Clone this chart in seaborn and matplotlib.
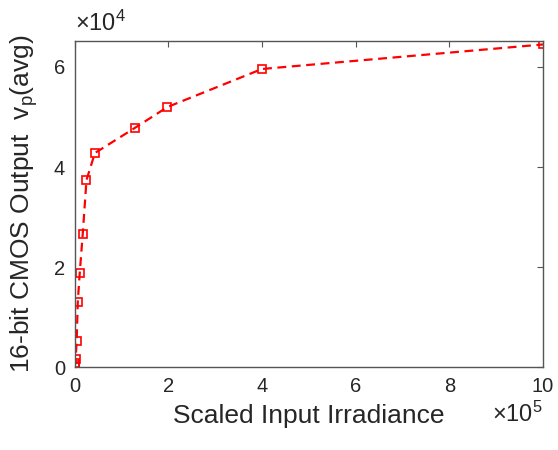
import matplotlib
matplotlib.use("Agg")
import matplotlib.pyplot as plt
import seaborn as sns
from matplotlib.ticker import FuncFormatter, MultipleLocator

irradiance = [0, 500, 1000, 2000, 4000, 6400, 10600, 17000, 25000,
              43000, 128000, 198000, 400000, 1000000]
cmos_output = [50, 400, 900, 1700, 5200, 13000, 18800, 26600, 37400,
               42800, 47800, 52000, 59600, 64500]

sns.set_style("white")
plt.rcParams['font.family'] = ['Liberation Sans', 'DejaVu Sans']
plt.rcParams['mathtext.fontset'] = 'custom'
plt.rcParams['mathtext.rm'] = 'Liberation Sans'
plt.rcParams['mathtext.it'] = 'Liberation Sans'

axis_gray = '#262626'
fig = plt.figure(figsize=(5.58, 4.5), dpi=100)
ax = fig.add_axes([0.134, 0.184, 0.839, 0.725])

sns.lineplot(x=irradiance, y=cmos_output, ax=ax, sort=False,
             color='red', linestyle=(0, (4, 2.5)), linewidth=1.6,
             marker='s', markersize=5.5, markerfacecolor='none',
             markeredgecolor='red', markeredgewidth=1.2)

ax.set_xlim(0, 1e6)
ax.set_ylim(0, 65200)
ax.xaxis.set_major_locator(MultipleLocator(2e5))
ax.yaxis.set_major_locator(MultipleLocator(2e4))
ax.xaxis.set_major_formatter(FuncFormatter(lambda v, p: f"{v/1e5:g}"))
ax.yaxis.set_major_formatter(FuncFormatter(lambda v, p: f"{v/1e4:g}"))

for s in ax.spines.values():
    s.set_color('#555555')
    s.set_linewidth(1.0)
ax.tick_params(direction='in', top=True, right=True, length=4, pad=7,
               colors='#555555', labelcolor=axis_gray, labelsize=14.5)

ax.set_xlabel("Scaled Input Irradiance", fontsize=19, color=axis_gray, labelpad=6)
ax.set_ylabel("16-bit CMOS Output  v$_\\mathrm{p}$(avg)", fontsize=19,
              color=axis_gray, labelpad=10)

ax.text(0.0, 1.015, "×10$^4$", transform=ax.transAxes, fontsize=17,
        color=axis_gray, ha='left', va='bottom')
ax.text(1.0, -0.105, "×10$^5$", transform=ax.transAxes, fontsize=17,
        color=axis_gray, ha='right', va='top')

fig.savefig("out.png", dpi=100)
